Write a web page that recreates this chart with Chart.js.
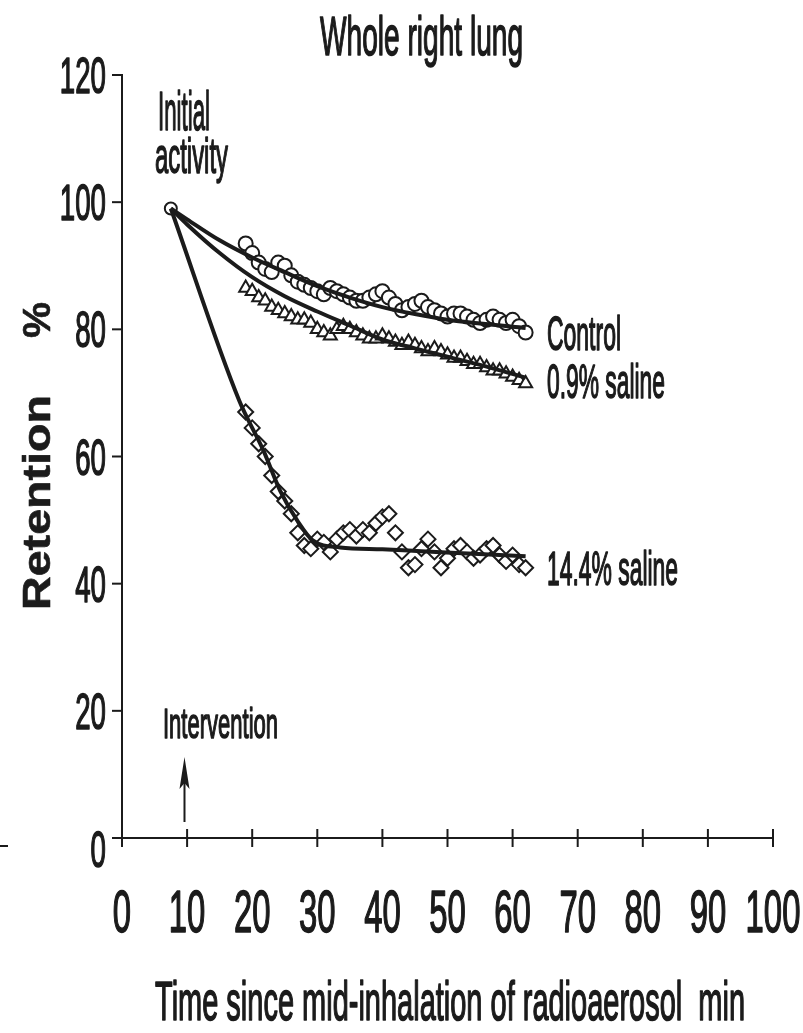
<!DOCTYPE html>
<html>
<head>
<meta charset="utf-8">
<script src="https://cdn.jsdelivr.net/npm/chart.js@4.4.1/dist/chart.umd.min.js"></script>
<style>
  html,body{margin:0;padding:0;background:#fff}
  #wrap{width:803px;height:1033px;position:relative}
</style>
</head>
<body>
<div id="wrap"><canvas id="chart"></canvas></div>
<script>
// sampling times of the measured points (min)
const times = [19,20,21,22,23,24,25,26,27,28,29,30,31,32,33,34,35,36,37,38,39,40,
               41,42,43,44,45,46,47,48,49,50,51,52,53,54,55,56,57,58,59,60,61,62];

const controlVals = [93.5,92,90.5,89.5,89,90.5,90,88.5,87.5,87,86.5,86,85.5,86.5,86,85.5,85,84.5,84.5,85,85.5,86,
                     85,84,83,83.5,84,84.5,83.5,83,82.5,82,82.5,82.5,82,81.5,81,81.5,82,81.5,81,81.5,80.5,79.5];
const saline09Vals = [86.5,86,85,84.5,83.5,83,82.5,82,81.5,81.5,81,80,79.5,79,80,80.5,80,79.5,79,78.5,78.5,79,
                      78.5,78,77.5,78,77.5,77,76.5,77,76.5,76,75.5,75.5,75,74.5,74.5,74,73.5,73.5,73,72.5,72,71.5];
const saline144Vals = [67,64.5,62,60,57,54.5,53,51,48,46,45.5,47,46.5,45,47,48,48.5,47.5,48.5,48,49.5,50.5,
                       51,48,45,42.5,43,45.5,47,45,42.5,44,45.5,46,45,44,44.5,45.5,46,44.5,43.5,44.5,43,42.5];

// initial activity point
const initialT = [7.5];
const initialV = [99];

// fitted curves
const controlFitT = [7.5,10,15,20,25,30,35,40,45,50,55,62];
const controlFitV = [99,97.3,94,91.3,89,86.8,85,83.5,82.4,81.5,80.9,80.2];
const saline09FitT = [7.5,10,15,20,25,30,35,40,45,50,55,62];
const saline09FitV = [99,96.5,92,88.2,85.2,82.8,80.6,78.4,77,75.7,74.4,72.4];
const saline144FitT = [7.5,18,21.7,24.3,27,29.3,33.5,40,46,54,62];
const saline144FitV = [99,68.8,61,54.6,49.8,46.8,45.7,45.4,45.1,44.7,44.3];

const xTicks = [0,10,20,30,40,50,60,70,80,90,100];
const yTicks = [0,20,40,60,80,100,120];

const INK = '#1b1b1b';
const FONT = '"Liberation Sans", Arial, sans-serif';

const pts = (xs, ys) => xs.map((x,i)=>({x:x, y:ys[i]}));

// draws text squeezed horizontally like the scanned figure
function drawText(ctx, s, x, y, o){
  const fs = o.cap/0.716;
  ctx.save();
  ctx.font = (o.weight||'normal') + ' ' + fs + 'px ' + FONT;
  ctx.textAlign = 'left'; ctx.textBaseline = 'alphabetic';
  const m = ctx.measureText(s).width;
  const sx = o.width ? o.width/m : o.sx;
  const w = m*sx;
  let left = x;
  if (o.align==='center') left = x - w/2;
  if (o.align==='right') left = x - w;
  ctx.translate(left, y);
  ctx.scale(sx, 1);
  ctx.fillStyle = INK; ctx.strokeStyle = INK;
  ctx.lineWidth = o.heavy===undefined ? 1.6 : o.heavy;
  ctx.lineJoin = 'round';
  ctx.fillText(s, 0, 0);
  if (ctx.lineWidth > 0) ctx.strokeText(s, 0, 0);
  ctx.restore();
}

const axesPlugin = {
  id: 'axesPlugin',
  afterDraw(chart){
    const ctx = chart.ctx, xs = chart.scales.x, ys = chart.scales.y;
    const a = chart.chartArea;
    ctx.save();
    ctx.strokeStyle = INK; ctx.lineWidth = 2;
    // y axis
    ctx.beginPath(); ctx.moveTo(a.left, ys.getPixelForValue(120)-1); ctx.lineTo(a.left, a.bottom); ctx.stroke();
    yTicks.forEach(v=>{
      const py = ys.getPixelForValue(v);
      ctx.beginPath(); ctx.moveTo(a.left-10, py); ctx.lineTo(a.left, py); ctx.stroke();
      drawText(ctx, String(v), 106, py + (v===0 ? 29 : 18), {cap:36, sx:0.55, align:'right'});
    });
    // x axis
    ctx.beginPath(); ctx.moveTo(a.left-10, a.bottom); ctx.lineTo(xs.getPixelForValue(100), a.bottom); ctx.stroke();
    xTicks.forEach(v=>{
      const px = xs.getPixelForValue(v);
      ctx.beginPath(); ctx.moveTo(px, a.bottom-9); ctx.lineTo(px, a.bottom+9); ctx.stroke();
      drawText(ctx, String(v), px, 932, {cap:42, sx:0.56, align:'center'});
    });
    // stray scan marks at the left edge
    ctx.beginPath(); ctx.moveTo(0, 846); ctx.lineTo(8, 846); ctx.stroke();

    // intervention arrow
    const ax = xs.getPixelForValue(9.6);
    ctx.beginPath(); ctx.moveTo(ax, 822); ctx.lineTo(ax, 775); ctx.stroke();
    ctx.fillStyle = INK;
    ctx.beginPath(); ctx.moveTo(ax, 757); ctx.lineTo(ax+5, 789); ctx.lineTo(ax, 783); ctx.lineTo(ax-5, 789); ctx.closePath(); ctx.fill();
    ctx.restore();

    // texts
    drawText(ctx, 'Whole right lung', 320, 55, {cap:40, width:203});
    drawText(ctx, 'Initial', 158, 130, {cap:40, width:52});
    drawText(ctx, 'activity', 155, 173, {cap:36, width:73});
    drawText(ctx, 'Control', 547, 350, {cap:34, width:74});
    drawText(ctx, '0.9% saline', 547, 398, {cap:34, width:118});
    drawText(ctx, '14.4% saline', 547, 585, {cap:34, width:131});
    drawText(ctx, 'Intervention', 163, 738, {cap:31, width:115});
    drawText(ctx, 'Time since mid-inhalation of radioaerosol  min', 155, 1020, {cap:40, width:590});

    // rotated y title
    ctx.save();
    ctx.translate(50, 610);
    ctx.rotate(-Math.PI/2);
    drawText(ctx, 'Retention', 0, 0, {cap:28, width:215, weight:'bold', heavy:0.6});
    drawText(ctx, '%', 272, 0, {cap:28, width:36, weight:'bold', heavy:0.6});
    ctx.restore();
  }
};

const lineDs = (data) => ({
  type:'line', data:data, borderColor:INK, borderWidth:4, pointRadius:0,
  fill:false, tension:0.4, cubicInterpolationMode:'monotone', order:0
});
const markDs = (data, style, r) => ({
  type:'scatter', data:data, showLine:false, pointStyle:style, pointRadius:r,
  pointBackgroundColor:'#fff', pointBorderColor:INK, pointBorderWidth:2, order:1
});

new Chart(document.getElementById('chart'), {
  type:'scatter',
  data:{ datasets:[
    lineDs(pts(controlFitT, controlFitV)),
    lineDs(pts(saline09FitT, saline09FitV)),
    lineDs(pts(saline144FitT, saline144FitV)),
    markDs(pts(times, controlVals), 'circle', 7),
    markDs(pts(times, saline09Vals), 'triangle', 7.5),
    markDs(pts(times, saline144Vals), 'rectRot', 7.5),
    markDs(pts(initialT, initialV), 'circle', 6)
  ]},
  options:{
    responsive:true, maintainAspectRatio:false, animation:false,
    layout:{ padding:{ top:75, right:30, left:0, bottom:0 } },
    plugins:{ legend:{display:false}, tooltip:{enabled:false} },
    scales:{
      x:{ type:'linear', min:0, max:100, ticks:{display:false}, grid:{display:false}, border:{display:false},
          afterFit(s){ s.height = 195; } },
      y:{ type:'linear', min:0, max:120, ticks:{display:false}, grid:{display:false}, border:{display:false},
          afterFit(s){ s.width = 122; } }
    }
  },
  plugins:[axesPlugin]
});
</script>
</body>
</html>
